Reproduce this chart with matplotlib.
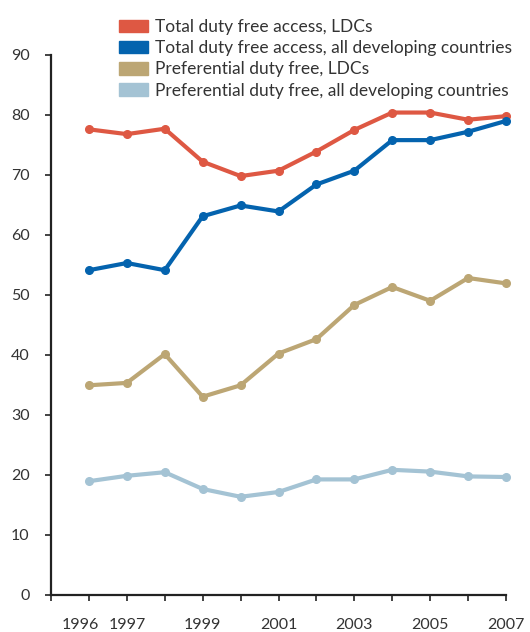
import matplotlib.pyplot as plt
import matplotlib.patches as mpatches
import matplotlib.transforms as mtransforms

plt.rcParams['font.family'] = ['Lato', 'DejaVu Sans']

years = [1996, 1997, 1998, 1999, 2000, 2001, 2002, 2003, 2004, 2005, 2006, 2007]
total_ldc = [77.6, 76.8, 77.7, 72.2, 69.8, 70.7, 73.9, 77.5, 80.4, 80.4, 79.2, 79.8]
total_dev = [54.1, 55.3, 54.1, 63.1, 64.9, 63.9, 68.4, 70.7, 75.8, 75.8, 77.2, 79.0]
pref_ldc = [34.9, 35.3, 40.1, 33.0, 34.9, 40.2, 42.6, 48.3, 51.3, 49.0, 52.8, 51.9]
pref_dev = [18.9, 19.8, 20.4, 17.6, 16.3, 17.1, 19.2, 19.2, 20.8, 20.5, 19.7, 19.6]

labels = ['Total duty free access, LDCs',
          'Total duty free access, all developing countries',
          'Preferential duty free, LDCs',
          'Preferential duty free, all developing countries']
colors = ['#DE5843', '#0463AE', '#BCA674', '#A4C3D4']
series = [total_ldc, total_dev, pref_ldc, pref_dev]

tick_years = [1996, 1997, 1999, 2001, 2003, 2005, 2007]
txt = '#333333'

fig = plt.figure(figsize=(5.3, 6.32), dpi=100)
ax = fig.add_axes([51/530, 37.5/632, 455/530, 539.5/632])

for vals, c in zip(series, colors):
    ax.plot(years, vals, color=c, lw=3, marker='o', ms=5.5, clip_on=False,
            solid_joinstyle='round', zorder=3)

ax.set_xlim(1995, 2007)
ax.set_ylim(0, 90)
ax.set_yticks(range(0, 91, 10))
ax.set_xticks(range(1995, 2008))
ax.set_xticklabels([str(y) if y in tick_years else '' for y in range(1995, 2008)])

for s in ['top', 'right']:
    ax.spines[s].set_visible(False)
for s in ['left', 'bottom']:
    ax.spines[s].set_linewidth(1.6)
    ax.spines[s].set_color('#222222')

ax.tick_params(axis='y', direction='out', length=4.5, width=1.2, color='#222222',
               pad=11, labelsize=11.5, labelcolor=txt)
ax.tick_params(axis='x', direction='out', length=4, width=1.2, color='#222222',
               pad=13, labelsize=11.5, labelcolor=txt)

# nudge the first year label left so it clears 1997
lbl = ax.get_xticklabels()[1]
lbl.set_transform(lbl.get_transform() +
                  mtransforms.ScaledTranslation(-9/100, 0, fig.dpi_scale_trans))

handles = [mpatches.Patch(color=c, label=l) for c, l in zip(colors, labels)]
fig.legend(handles=handles, loc='upper left', bbox_to_anchor=(112/530, 1 - 12/632),
           frameon=False, fontsize=12.5, handlelength=1.65, handleheight=0.75,
           handletextpad=0.4, labelspacing=0.3, borderaxespad=0,
           labelcolor=txt)

fig.savefig('out.png', dpi=100)
